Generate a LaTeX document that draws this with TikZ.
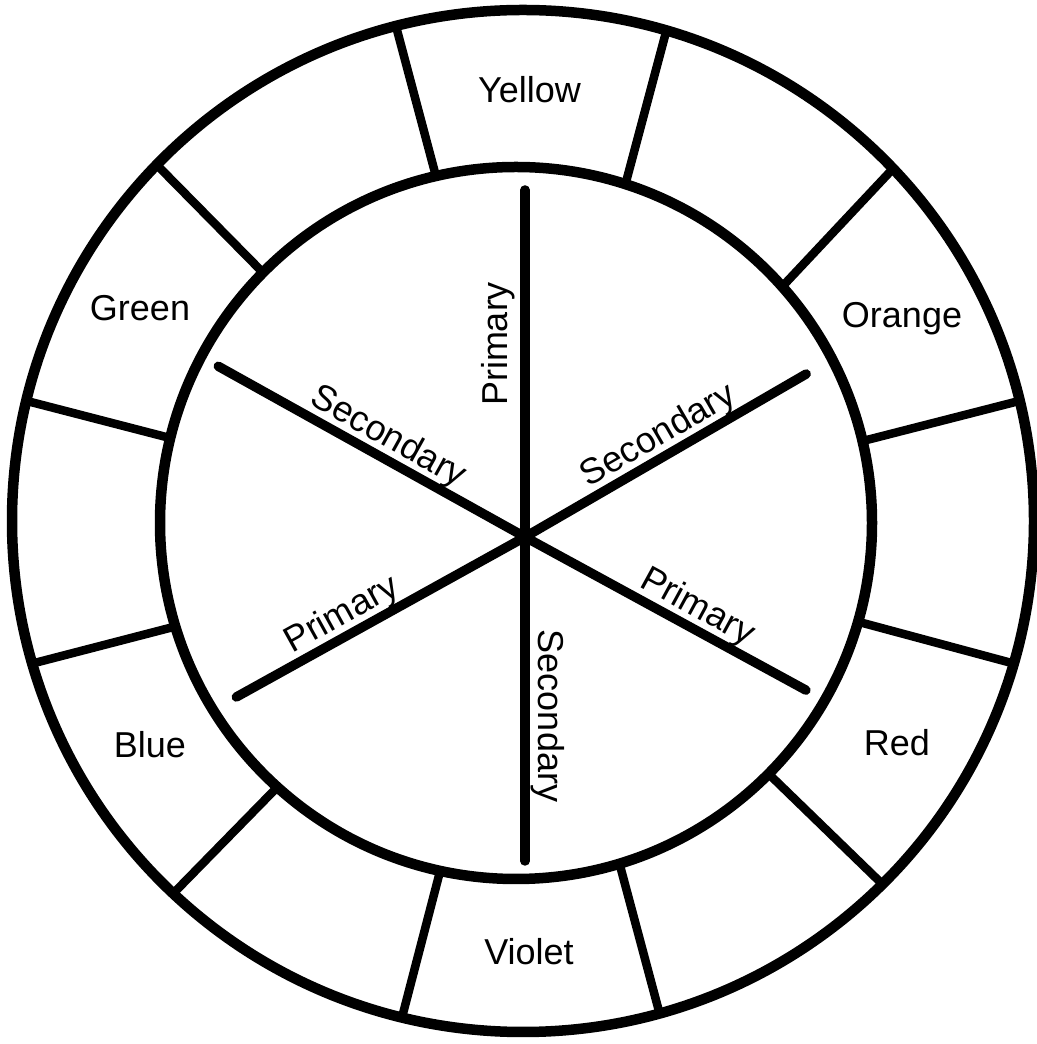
\documentclass[tikz,border=0pt]{standalone}
\usepackage{fontspec}
\setmainfont{Liberation Sans}
\usetikzlibrary{calc}

\begin{document}
\begin{tikzpicture}[x=.5pt,y=.5pt,
  ring/.style={line width=5.25pt},
  divider/.style={line width=4.25pt},
  spoke/.style={line width=4.75pt,line cap=round},
  colour/.style={anchor=base,inner sep=0pt,font=\fontsize{18}{21}\selectfont},
  kind/.style={anchor=south,inner sep=1.5pt,font=\fontsize{18}{21}\selectfont}]
\useasboundingbox (0,0) rectangle (1037,1044);
\coordinate (O) at (523,523);
\coordinate (I) at (516,521);
\coordinate (H) at (525,507);
\draw[ring] (O) circle (511);
\draw[ring] (I) circle (356);
% ring segments
\foreach \a/\b in {13.6/13.3,43.6/41.6,73.7/72.1,104.4/103.0,135.8/135.3,166.4/166.2,
                   196.2/196.9,226.8/227.9,256.3/257.7,285.5/286.9,314.7/315.2,343.8/343.9}{
  \draw[divider] ([shift={(\a:511)}]O) -- ([shift={(\b:356)}]I);
}
% spokes
\foreach \a/\r in {90/347,30.1/325,-28.6/320,270/324,209/330,150.9/351}{
  \draw[spoke] (H) -- ++(\a:\r);
}
\node[colour] (yellow) at (529.5,941) {Yellow};
\node[colour] (orange) at (902,716) {Orange};
\node[colour] (red) at (897,288) {Red};
\node[colour] (violet) at (529,79) {Violet};
\node[colour] (blue) at (150,286) {Blue};
\node[colour] (green) at (140,723) {Green};
\node[kind,rotate=90,inner sep=5pt] (prim1) at ([shift={(90:193)}]H) {Primary};
\node[kind,rotate=30.1] (sec1) at ([shift={(30.1:166)}]H) {Secondary};
\node[kind,rotate=-28.6] (prim2) at ([shift={(-28.6:185)}]H) {Primary};
\node[kind,rotate=-90,inner sep=3pt] (sec2) at ([shift={(270:179)}]H) {Secondary};
\node[kind,rotate=29] (prim3) at ([shift={(209:198)}]H) {Primary};
\node[kind,rotate=-29.1] (sec3) at ([shift={(150.9:168)}]H) {Secondary};
\end{tikzpicture}
\end{document}
